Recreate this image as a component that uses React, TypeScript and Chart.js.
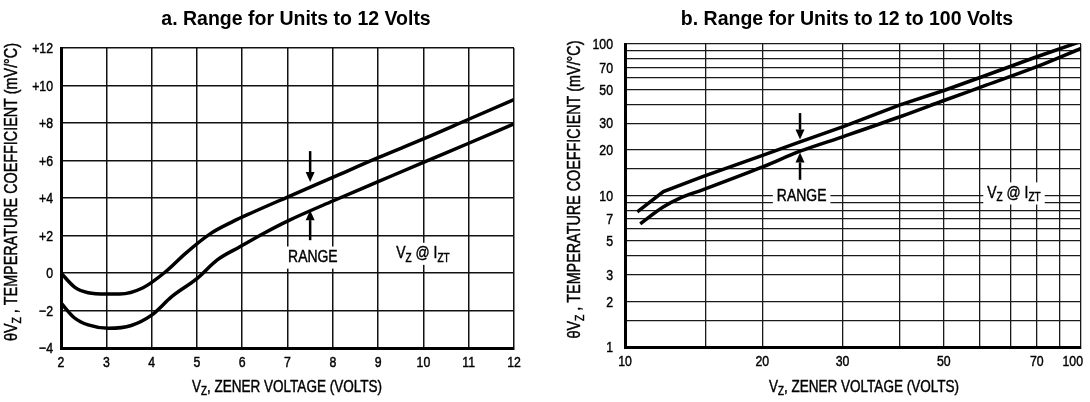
import React, { useEffect, useRef } from "react";
import { Chart, registerables } from "chart.js";

Chart.register(...registerables);

// ---------- DATA ----------
const titleA = "a. Range for Units to 12 Volts";
const titleB = "b. Range for Units to 12 to 100 Volts";

// Chart a (linear)
const xTicksA = [2, 3, 4, 5, 6, 7, 8, 9, 10, 11, 12];
const yTicksA = [-4, -2, 0, 2, 4, 6, 8, 10, 12];
const upperAx = [2, 2.3, 2.6, 3.0, 3.3, 3.8, 4.3, 4.75, 5.3, 5.8, 6.2, 7, 8, 9, 10, 11, 12];
const upperAy = [0, -0.75, -1.05, -1.12, -1.12, -0.8, 0.05, 1.05, 2.1, 2.75, 3.2, 4.05, 5.1, 6.15, 7.15, 8.2, 9.25];
const lowerAx = [2, 2.3, 2.6, 3.05, 3.55, 4.0, 4.45, 5.0, 5.45, 5.95, 6.5, 7, 8, 9, 10, 11, 12];
const lowerAy = [-1.6, -2.4, -2.77, -2.95, -2.8, -2.25, -1.25, -0.3, 0.7, 1.4, 2.15, 2.77, 3.84, 4.87, 5.9, 6.92, 7.95];
const arrowsA = [
  { x: 7.5, from: 6.5, to: 4.85 },
  { x: 7.5, from: 1.75, to: 3.35 },
];

// Chart b (log-log)
const xGridB = [10, 15, 20, 30, 40, 50, 60, 70, 80, 90, 100];
const xLabelValuesB = [10, 20, 30, 50, 80, 100];
const xLabelTextsB = ["10", "20", "30", "50", "70", "100"];
const yGridB = [1, 1.5, 2, 3, 4, 5, 6, 7, 8, 9, 10, 15, 20, 30, 40, 50, 60, 70, 80, 90, 100];
const yLabelValuesB = [1, 2, 3, 5, 7, 10, 20, 30, 50, 70, 100];
const upperBx = [10.64, 12.14, 14.8, 20.1, 24.2, 30.1, 40.1, 50.4, 60.7, 80, 100];
const upperBy = [7.8, 10.6, 13.3, 18.5, 22.6, 28.5, 39.6, 49.7, 60.8, 82.4, 104];
const lowerBx = [10.8, 12.1, 13.2, 14.8, 20.1, 24.2, 30.1, 40.1, 50.4, 60.7, 80, 100];
const lowerBy = [6.5, 8.36, 9.6, 10.9, 15.5, 19.6, 24.5, 33.1, 42.7, 52.3, 70.8, 93.4];
const arrowsB = [
  { x: 24.2, from: 35, to: 23.4 },
  { x: 24.2, from: 12.7, to: 19.2 },
];

// Text pieces
type Seg = { t: string; sub?: boolean };
const yTitleSegs: Seg[] = [{ t: "θV" }, { t: "Z", sub: true }, { t: " , TEMPERATURE COEFFICIENT (mV/°C)" }];
const xTitleSegs: Seg[] = [{ t: "V" }, { t: "Z", sub: true }, { t: ", ZENER VOLTAGE (VOLTS)" }];
const rangeSegs: Seg[] = [{ t: "RANGE" }];
const vzSegs: Seg[] = [{ t: "V" }, { t: "Z", sub: true }, { t: " @ I" }, { t: "ZT", sub: true }];
const labelsA = [
  { x: 7.56, y: 0.85, segs: rangeSegs },
  { x: 9.99, y: 1.05, segs: vzSegs },
];
const labelsB = [
  { x: 24.4, y: 9.9, segs: rangeSegs },
  { x: 71.3, y: 10.4, segs: vzSegs },
];

// ---------- STYLE ----------
const SANS = "'Liberation Sans', Arial, sans-serif";
const SX = 0.82; // horizontal condensing to mimic a narrow face
const INK = 0.45; // slight stroke to mimic heavy print

function zip(xs: number[], ys: number[]) {
  return xs.map((x, i) => ({ x, y: ys[i] }));
}

function inkText(ctx: CanvasRenderingContext2D, t: string, x: number, y: number) {
  ctx.fillText(t, x, y);
  ctx.lineWidth = INK;
  ctx.strokeStyle = "#000";
  ctx.strokeText(t, x, y);
}

function drawRich(ctx: CanvasRenderingContext2D, segs: Seg[], cx: number, cy: number, size: number, bg?: boolean) {
  const subSize = size * 0.72;
  const widths = segs.map((s) => {
    ctx.font = `${s.sub ? subSize : size}px ${SANS}`;
    return ctx.measureText(s.t).width;
  });
  const total = widths.reduce((a, b) => a + b, 0) * SX;
  const left = cx - total / 2;
  if (bg) {
    ctx.fillStyle = "#fff";
    ctx.fillRect(left - 4, cy - size * 0.62, total + 8, size * 1.3);
  }
  ctx.save();
  ctx.translate(left, cy);
  ctx.scale(SX, 1);
  ctx.fillStyle = "#000";
  ctx.textAlign = "left";
  ctx.textBaseline = "middle";
  let x = 0;
  segs.forEach((s, i) => {
    ctx.font = `${s.sub ? subSize : size}px ${SANS}`;
    inkText(ctx, s.t, x, s.sub ? size * 0.3 : 0);
    x += widths[i];
  });
  ctx.restore();
}

function drawLabel(ctx: CanvasRenderingContext2D, text: string, x: number, y: number, size: number, align: "center" | "right") {
  ctx.font = `${size}px ${SANS}`;
  const w = ctx.measureText(text).width * SX;
  const left = align === "center" ? x - w / 2 : x - w;
  ctx.save();
  ctx.translate(left, y);
  ctx.scale(SX, 1);
  ctx.fillStyle = "#000";
  ctx.textAlign = "left";
  ctx.textBaseline = "middle";
  inkText(ctx, text, 0, 0);
  ctx.restore();
}

function drawArrow(ctx: CanvasRenderingContext2D, x: number, y0: number, y1: number) {
  const dir = y1 > y0 ? 1 : -1;
  const head = 10;
  ctx.strokeStyle = "#000";
  ctx.lineWidth = 2.5;
  ctx.beginPath();
  ctx.moveTo(x, y0);
  ctx.lineTo(x, y1 - dir * head);
  ctx.stroke();
  ctx.fillStyle = "#000";
  ctx.beginPath();
  ctx.moveTo(x, y1);
  ctx.lineTo(x - 4.5, y1 - dir * head);
  ctx.lineTo(x + 4.5, y1 - dir * head);
  ctx.closePath();
  ctx.fill();
}

type DecorCfg = {
  title: string;
  titleX: number;
  yTitleX: number;
  xTitleX: number;
  xLabels: { v: number; t: string }[];
  yLabels: { v: number; t: string }[];
  yLabelGap: number;
  arrows: { x: number; from: number; to: number }[];
  labels: { x: number; y: number; segs: Seg[] }[];
};

function makeDecor(cfg: DecorCfg) {
  return {
    id: "decor",
    afterDatasetsDraw(chart: any) {
      const ctx: CanvasRenderingContext2D = chart.ctx;
      const xs = chart.scales.x;
      const ys = chart.scales.y;
      ctx.save();
      cfg.labels.forEach((l) => {
        drawRich(ctx, l.segs, xs.getPixelForValue(l.x), ys.getPixelForValue(l.y), 17, true);
      });
      cfg.arrows.forEach((a) => {
        drawArrow(ctx, xs.getPixelForValue(a.x), ys.getPixelForValue(a.from), ys.getPixelForValue(a.to));
      });
      ctx.restore();
    },
    afterDraw(chart: any) {
      const ctx: CanvasRenderingContext2D = chart.ctx;
      const area = chart.chartArea;
      const xs = chart.scales.x;
      const ys = chart.scales.y;
      ctx.save();
      // tick labels
      const lastX = cfg.xLabels[cfg.xLabels.length - 1];
      cfg.xLabels.forEach((l) => {
        const px = xs.getPixelForValue(l.v);
        const isLastAtEdge = l === lastX && px + 10 > chart.width;
        drawLabel(ctx, l.t, isLastAtEdge ? px + 2 : px, area.bottom + 15, 15, isLastAtEdge ? "right" : "center");
      });
      cfg.yLabels.forEach((l) => {
        drawLabel(ctx, l.t, area.left - cfg.yLabelGap, ys.getPixelForValue(l.v) + 1, 15, "right");
      });
      // chart title
      ctx.fillStyle = "#000";
      ctx.font = `bold 19.5px ${SANS}`;
      ctx.textAlign = "center";
      ctx.textBaseline = "middle";
      ctx.fillText(cfg.title, cfg.titleX, 20);
      // x title
      drawRich(ctx, xTitleSegs, cfg.xTitleX, 387, 16.5);
      // y title
      ctx.translate(cfg.yTitleX, (area.top + area.bottom) / 2 - 6);
      ctx.rotate(-Math.PI / 2);
      drawRich(ctx, yTitleSegs, 0, 0, 17.5);
      ctx.restore();
    },
  };
}

function hiddenTicks() {
  return { display: false };
}

function ChartA() {
  const ref = useRef<HTMLCanvasElement>(null);
  useEffect(() => {
    const chart = new Chart(ref.current!, {
      type: "line",
      data: {
        datasets: [
          { data: zip(upperAx, upperAy), borderColor: "#000", borderWidth: 3.5, pointRadius: 0, cubicInterpolationMode: "monotone" },
          { data: zip(lowerAx, lowerAy), borderColor: "#000", borderWidth: 3.5, pointRadius: 0, cubicInterpolationMode: "monotone" },
        ],
      },
      options: {
        responsive: false,
        animation: false,
        events: [],
        layout: { autoPadding: false, padding: { top: 48, left: 0, right: 31, bottom: 0 } },
        plugins: { legend: { display: false }, tooltip: { enabled: false }, title: { display: false } },
        scales: {
          x: {
            type: "linear",
            min: 2,
            max: 12,
            afterBuildTicks: (s: any) => {
              s.ticks = xTicksA.map((v) => ({ value: v }));
            },
            afterFit: (s: any) => {
              s.height = 54;
            },
            ticks: hiddenTicks(),
            grid: { color: "#111", lineWidth: 1.5, drawTicks: false },
            border: { color: "#000", width: 3 },
          },
          y: {
            type: "linear",
            min: -4,
            max: 12,
            afterBuildTicks: (s: any) => {
              s.ticks = yTicksA.map((v) => ({ value: v }));
            },
            afterFit: (s: any) => {
              s.width = 61;
            },
            ticks: hiddenTicks(),
            grid: { color: "#111", lineWidth: 1.5, drawTicks: false },
            border: { color: "#000", width: 3 },
          },
        },
      } as any,
      plugins: [
        makeDecor({
          title: titleA,
          titleX: 296,
          yTitleX: 12,
          xTitleX: 287,
          xLabels: xTicksA.map((v) => ({ v, t: String(v) })),
          yLabels: yTicksA.map((v) => ({ v, t: v > 0 ? "+" + v : v < 0 ? "\u2212" + Math.abs(v) : "0" })),
          yLabelGap: 8,
          arrows: arrowsA,
          labels: labelsA,
        }),
      ],
    });
    return () => chart.destroy();
  }, []);
  return <canvas ref={ref} width={545} height={402} style={{ position: "absolute", left: 0, top: 0 }} />;
}

function ChartB() {
  const ref = useRef<HTMLCanvasElement>(null);
  useEffect(() => {
    const chart = new Chart(ref.current!, {
      type: "line",
      data: {
        datasets: [
          { data: zip(upperBx, upperBy), borderColor: "#000", borderWidth: 3.5, pointRadius: 0, tension: 0 },
          { data: zip(lowerBx, lowerBy), borderColor: "#000", borderWidth: 3.5, pointRadius: 0, cubicInterpolationMode: "monotone" },
        ],
      },
      options: {
        responsive: false,
        animation: false,
        events: [],
        layout: { autoPadding: false, padding: { top: 44, left: 0, right: 9, bottom: 0 } },
        plugins: { legend: { display: false }, tooltip: { enabled: false }, title: { display: false } },
        scales: {
          x: {
            type: "logarithmic",
            min: 10,
            max: 100,
            afterBuildTicks: (s: any) => {
              s.ticks = xGridB.map((v) => ({ value: v }));
            },
            afterFit: (s: any) => {
              s.height = 55;
            },
            ticks: hiddenTicks(),
            grid: { color: "#1a1a1a", lineWidth: 1.3, drawTicks: false },
            border: { color: "#000", width: 3 },
          },
          y: {
            type: "logarithmic",
            min: 1,
            max: 100,
            afterBuildTicks: (s: any) => {
              s.ticks = yGridB.map((v) => ({ value: v }));
            },
            afterFit: (s: any) => {
              s.width = 80;
            },
            ticks: hiddenTicks(),
            grid: { color: "#1a1a1a", lineWidth: 1.3, drawTicks: false },
            border: { color: "#000", width: 3 },
          },
        },
      } as any,
      plugins: [
        makeDecor({
          title: titleB,
          titleX: 302,
          yTitleX: 30,
          xTitleX: 319,
          xLabels: xLabelValuesB.map((v, i) => ({ v, t: xLabelTextsB[i] })),
          yLabels: yLabelValuesB.map((v) => ({ v, t: String(v) })),
          yLabelGap: 12,
          arrows: arrowsB,
          labels: labelsB,
        }),
      ],
    });
    return () => chart.destroy();
  }, []);
  return <canvas ref={ref} width={545} height={402} style={{ position: "absolute", left: 545, top: 0 }} />;
}

export default function App() {
  return (
    <div style={{ position: "absolute", left: 0, top: 0, width: 1090, height: 402, background: "#fff", overflow: "hidden" }}>
      <ChartA />
      <ChartB />
    </div>
  );
}
